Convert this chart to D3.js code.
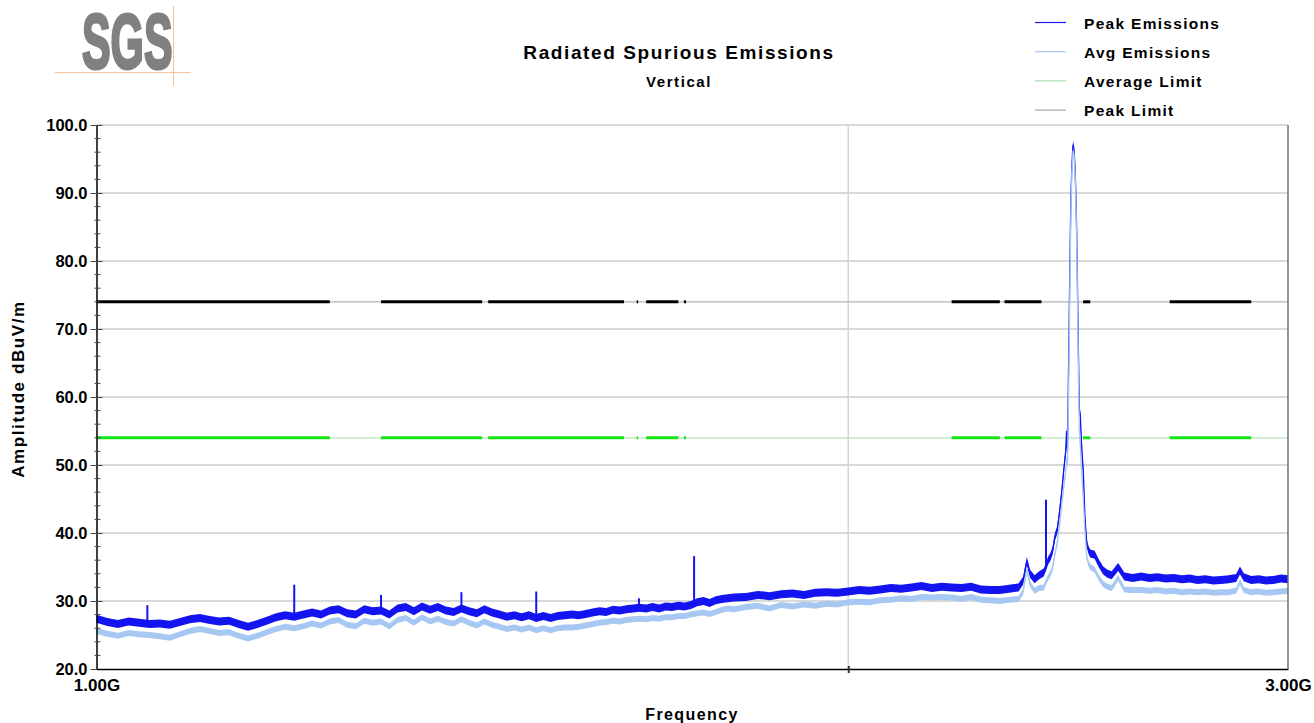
<!DOCTYPE html>
<html>
<head>
<meta charset="utf-8">
<script src="https://cdn.jsdelivr.net/npm/d3@7"></script>
<style>
  body { margin: 0; background: #fff; }
  svg text { font-family: "Liberation Sans", Arial, sans-serif; font-weight: bold; fill: #000; }
</style>
</head>
<body>
<svg id="chart" width="1314" height="723"></svg>
<script>
// Frequencies of the sweep (MHz) and the measured levels (dBuV/m)
var freqMHz = [1000,1010,1020,1030,1040,1050,1060,1070,1080,1090,1100,1110,1120,1130,1140,1150,1160,1170,1180,1190,
    1200,1210,1220,1230,1240,1250,1260,1270,1280,1290,1300,1310,1320,1330,1340,1350,1360,1370,1380,1390,
    1400,1410,1420,1430,1440,1450,1460,1470,1480,1490,1500,1510,1520,1530,1540,1550,1560,1570,1580,1590,
    1600,1610,1620,1630,1640,1650,1660,1670,1680,1690,1700,1710,1720,1730,1740,1750,1760,1770,1780,1790,
    1800,1820,1840,1860,1880,1900,1920,1940,1960,1980,2000,2020,2040,2060,2080,2100,2120,2140,2160,2180,
    2200,2220,2240,2260,2280,2300,2320,2340,2350,2358,2365,2375,2385,2395,2400,2405,2410,2415,2420,2425,
    2430,2435,2440,2444,2446,2448,2450,2452,2454,2456,2458,2460,2461,2463,2465,2467,2469,2471,2473,2475,
    2477,2480,2484,2488,2492,2496,2500,2510,2520,2530,2540,2550,2565,2580,2600,2620,2640,2660,2680,2700,
    2720,2740,2760,2780,2800,2820,2840,2860,2870,2880,2900,2920,2940,2960,2980,3000];

var peakDb = [27.4,26.9,26.6,27.0,26.8,26.6,26.7,26.5,26.9,27.3,27.5,27.2,27.0,27.1,26.6,26.2,26.6,27.1,27.6,27.9,
    27.7,28.0,28.3,28.0,28.6,28.8,28.2,28.0,28.8,28.5,28.6,28.0,28.9,29.1,28.5,29.2,28.7,29.1,28.6,28.4,
    28.9,28.5,28.2,28.8,28.3,28.0,27.7,27.9,27.6,27.9,27.5,27.8,27.5,27.8,27.9,28.0,27.9,28.1,28.3,28.5,
    28.4,28.7,28.6,28.8,28.9,29.0,28.9,29.1,28.9,29.2,29.1,29.3,29.2,29.4,29.8,30.0,29.7,30.1,30.3,30.4,
    30.5,30.6,30.9,30.7,31.0,31.1,30.9,31.2,31.3,31.2,31.4,31.6,31.5,31.7,31.9,31.8,32.0,32.2,31.9,32.1,
    32.0,31.9,32.1,31.7,31.6,31.6,31.8,32.0,33.0,35.9,34.0,33.2,33.8,34.2,35.0,36.0,36.5,37.5,39.5,40.4,
    43.0,46.0,49.5,52.0,55.0,52.0,62.0,72.0,82.0,90.0,94.0,96.5,97.1,96.2,94.0,90.0,84.0,75.0,66.0,58.0,
    57.5,53.0,49.0,42.0,38.5,37.5,37.0,36.8,35.5,34.5,34.0,33.8,35.0,33.6,33.4,33.6,33.4,33.5,33.3,33.4,
    33.2,33.3,33.1,33.2,33.0,33.1,33.2,33.4,34.5,33.5,33.1,33.2,33.0,33.1,33.3,33.2];

var avgDb = [25.6,25.2,24.9,25.3,25.1,25.0,24.8,24.6,25.1,25.6,25.9,25.6,25.3,25.4,24.9,24.5,24.9,25.4,25.9,26.2,
    26.0,26.3,26.7,26.4,27.0,27.2,26.5,26.3,27.1,26.8,27.0,26.3,27.2,27.5,26.8,27.6,27.0,27.4,26.9,26.7,
    27.3,26.8,26.4,27.0,26.5,26.2,25.9,26.1,25.8,26.1,25.7,26.0,25.7,26.0,26.1,26.1,26.2,26.4,26.6,26.8,
    26.9,27.1,27.0,27.2,27.3,27.4,27.3,27.5,27.4,27.6,27.6,27.8,27.8,28.0,28.2,28.3,28.1,28.4,28.7,28.9,
    28.8,29.1,29.3,28.9,29.4,29.2,29.5,29.3,29.6,29.5,29.8,29.9,29.8,30.1,30.2,30.4,30.3,30.6,30.5,30.6,
    30.5,30.3,30.6,30.2,30.1,30.0,30.2,30.3,31.4,34.6,32.5,31.5,31.9,32.0,32.8,33.5,34.0,35.0,37.0,38.5,
    41.0,44.0,47.0,49.0,51.0,50.0,58.0,68.0,79.0,88.0,93.0,95.5,96.2,95.5,93.0,89.0,82.0,73.0,63.0,55.0,
    53.0,49.0,45.0,40.0,36.5,35.5,35.0,34.6,33.4,32.5,32.1,31.9,33.4,31.7,31.6,31.6,31.5,31.6,31.4,31.5,
    31.3,31.4,31.3,31.4,31.2,31.3,31.3,31.5,32.8,31.6,31.3,31.4,31.2,31.3,31.4,31.5];

// narrow spurs on the peak trace
var spikeMHz = [1048, 1200, 1300, 1400, 1500, 1649, 1735, 2400];
var spikeDb = [29.4, 32.4, 30.9, 31.3, 31.4, 30.4, 36.6, 44.9];

// limits and the restricted bands where they apply
var peakLimitDb = 74;
var avgLimitDb = 54;
var bandStartMHz = [1000, 1300, 1435, 1645.5, 1660, 1718.8, 2200, 2310, 2483.5, 2690];
var bandEndMHz = [1240, 1427, 1626.5, 1646.5, 1710, 1722.2, 2300, 2390, 2500, 2900];

// axis ticks
var yTicks = [20, 30, 40, 50, 60, 70, 80, 90, 100];
var xTicks = [1000, 2000, 3000];
var xTickLabels = ["1.00G", "", "3.00G"];

var legendNames = ["Peak Emissions", "Avg Emissions", "Average Limit", "Peak Limit"];
var legendColors = ["#1a1af0", "#a9c9f0", "#a8dca8", "#a8a8a8"];

function drawChart() {
    var svg = d3.select("#chart");
    var left = 96.5, right = 1288, top = 125, bottom = 669;

    var xScale = d3.scaleLog().domain([1000, 3000]).range([left, right]);
    var yScale = d3.scaleLinear().domain([20, 100]).range([bottom, top]);

    // SGS logo
    var logo = svg.append("g");
    logo.append("text")
        .attr("transform", "translate(82,68) scale(0.55,1)")
        .style("font-size", "78px")
        .style("fill", "#808080")
        .style("stroke", "#808080").style("stroke-width", 3)
        .text("SGS");
    logo.append("line").attr("x1", 55).attr("x2", 191).attr("y1", 72.5).attr("y2", 72.5)
        .attr("stroke", "#f2c4a0").attr("stroke-width", 1);
    logo.append("line").attr("x1", 173.5).attr("x2", 173.5).attr("y1", 6).attr("y2", 86)
        .attr("stroke", "#f2c4a0").attr("stroke-width", 1);

    // titles
    svg.append("text").attr("x", 679).attr("y", 59).attr("text-anchor", "middle")
        .style("font-size", "19px").style("letter-spacing", "1.6px").text("Radiated Spurious Emissions");
    svg.append("text").attr("x", 679).attr("y", 87).attr("text-anchor", "middle")
        .style("font-size", "15px").style("letter-spacing", "1.6px").text("Vertical");
    svg.append("text").attr("x", 692).attr("y", 720).attr("text-anchor", "middle")
        .style("font-size", "16px").style("letter-spacing", "1.4px").text("Frequency");
    svg.append("text").attr("transform", "translate(24,389) rotate(-90)").attr("text-anchor", "middle")
        .style("font-size", "17px").style("letter-spacing", "1.6px").text("Amplitude dBuV/m");

    // horizontal grid
    svg.append("g").selectAll("line")
        .data(yTicks.filter(function (d) { return d > 20; }))
        .enter().append("line")
        .attr("x1", left).attr("x2", right)
        .attr("y1", function (d) { return yScale(d); })
        .attr("y2", function (d) { return yScale(d); })
        .attr("stroke", "#cdcdcd").attr("stroke-width", 1.5);

    // vertical grid at 2G
    svg.append("line")
        .attr("x1", xScale(2000)).attr("x2", xScale(2000))
        .attr("y1", top).attr("y2", bottom)
        .attr("stroke", "#d6d6d6").attr("stroke-width", 1.5);

    // limit lines: thin over the whole span, thick in restricted bands
    function drawLimit(level, thinColor, thickColor) {
        svg.append("line")
            .attr("x1", left).attr("x2", right)
            .attr("y1", yScale(level)).attr("y2", yScale(level))
            .attr("stroke", thinColor).attr("stroke-width", 1.2);
        svg.append("g").selectAll("line")
            .data(bandStartMHz)
            .enter().append("line")
            .attr("x1", function (d) { return xScale(d); })
            .attr("x2", function (d, i) { return Math.max(xScale(bandEndMHz[i]), xScale(d) + 1.5); })
            .attr("y1", yScale(level)).attr("y2", yScale(level))
            .attr("stroke", thickColor).attr("stroke-width", 3);
    }
    drawLimit(peakLimitDb, "#b4b4b4", "#000000");
    drawLimit(avgLimitDb, "#b8e4b8", "#14e614");

    // traces
    var peakData = freqMHz.map(function (f, i) { return { f: f, v: peakDb[i] }; });
    var avgData = freqMHz.map(function (f, i) { return { f: f, v: avgDb[i] }; });

    function drawTrace(data, color, half) {
        var band = d3.area()
            .x(function (d) { return xScale(d.f); })
            .y0(function (d) { return yScale(d.v) + half; })
            .y1(function (d) { return yScale(d.v) - half; });
        var line = d3.line()
            .x(function (d) { return xScale(d.f); })
            .y(function (d) { return yScale(d.v); });
        svg.append("path").datum(data).attr("d", band).attr("fill", color);
        svg.append("path").datum(data).attr("d", line)
            .attr("fill", "none").attr("stroke", color).attr("stroke-width", 1.3);
    }
    drawTrace(peakData, "#1414f0", 4);

    // spurs from the peak trace
    var bisect = d3.bisector(function (d) { return d.f; }).left;
    svg.append("g").selectAll("line")
        .data(spikeMHz)
        .enter().append("line")
        .attr("x1", function (d) { return xScale(d); })
        .attr("x2", function (d) { return xScale(d); })
        .attr("y1", function (d, i) { return yScale(spikeDb[i]); })
        .attr("y2", function (d) {
            var k = Math.min(bisect(peakData, d), peakData.length - 1);
            return yScale(peakData[k].v);
        })
        .attr("stroke", "#1414f0").attr("stroke-width", 2);

    drawTrace(avgData, "#a6c8f2", 3);

    // axes
    var yAxis = d3.axisLeft(yScale).tickValues(yTicks).tickFormat(d3.format(".1f"))
        .tickSizeInner(6).tickSizeOuter(0).tickPadding(3);
    var gy = svg.append("g").attr("transform", "translate(" + left + ",0)").call(yAxis);
    gy.selectAll(".tick line").attr("x2", -6).attr("x1", 6).attr("stroke", "#444");
    gy.selectAll(".tick text").style("font-size", "16.5px").attr("dy", "0.36em").attr("x", -9);
    gy.select(".domain").attr("stroke", "#000").attr("stroke-width", 1.5);

    var minorTicks = d3.range(20, 100, 2).filter(function (d) { return d % 10 !== 0; });
    svg.append("g").selectAll("line")
        .data(minorTicks)
        .enter().append("line")
        .attr("x1", left - 2).attr("x2", left + 4)
        .attr("y1", function (d) { return yScale(d); })
        .attr("y2", function (d) { return yScale(d); })
        .attr("stroke", "#444").attr("stroke-width", 1);

    var xAxis = d3.axisBottom(xScale).tickValues(xTicks)
        .tickFormat(function (d, i) { return xTickLabels[i]; })
        .tickSizeInner(0).tickSizeOuter(0).tickPadding(6);
    var gx = svg.append("g").attr("transform", "translate(0," + bottom + ")").call(xAxis);
    gx.selectAll(".tick text").style("font-size", "17px").attr("dy", "0.95em");
    gx.select(".domain").attr("stroke", "#000").attr("stroke-width", 1.5);
    gx.selectAll(".tick line").filter(function (d) { return d === 2000; })
        .attr("y1", -3).attr("y2", 4).attr("stroke", "#333").attr("stroke-width", 2);

    // right frame
    svg.append("line").attr("x1", right).attr("x2", right).attr("y1", top).attr("y2", bottom)
        .attr("stroke", "#707070").attr("stroke-width", 1.5);

    // legend
    var legend = svg.append("g").selectAll("g")
        .data(legendNames)
        .enter().append("g")
        .attr("transform", function (d, i) { return "translate(0," + (22.5 + i * 29.2) + ")"; });
    legend.append("line").attr("x1", 1035).attr("x2", 1066)
        .attr("stroke", function (d, i) { return legendColors[i]; }).attr("stroke-width", 1.2);
    legend.append("text").attr("x", 1084).attr("y", 6)
        .style("font-size", "15.5px").style("letter-spacing", "1.3px")
        .text(function (d) { return d; });
}

drawChart();
</script>
</body>
</html>
